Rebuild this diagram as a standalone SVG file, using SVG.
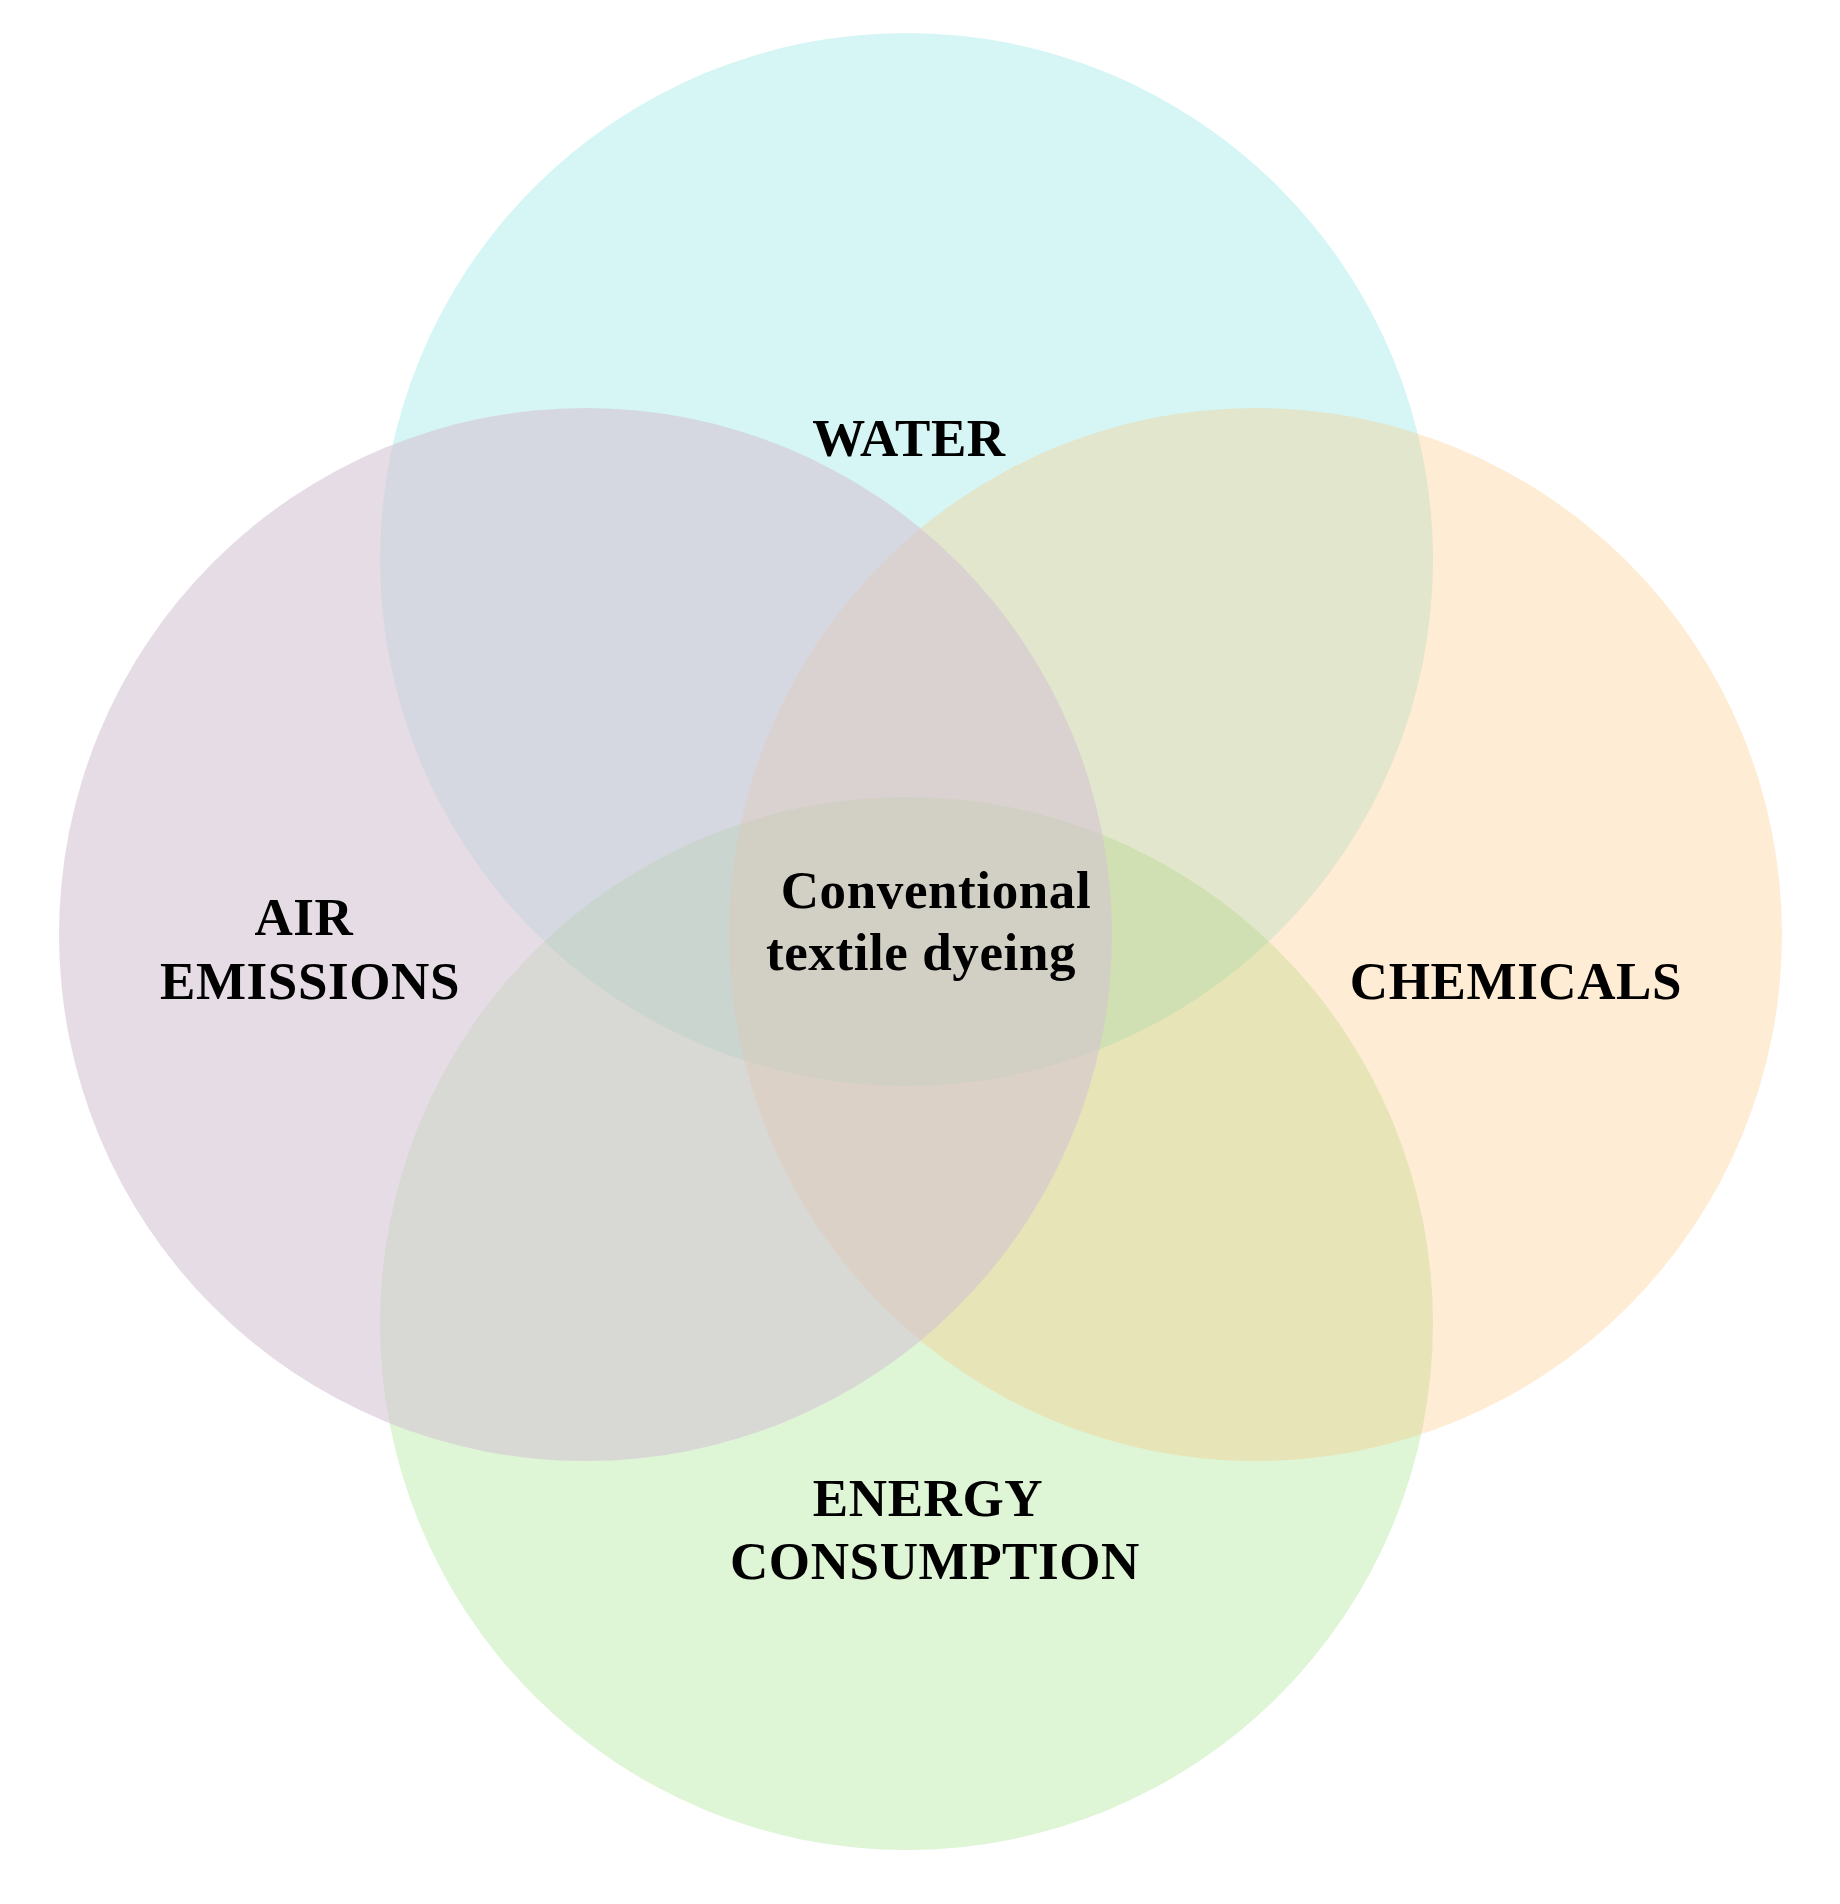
<svg xmlns="http://www.w3.org/2000/svg" width="1840" height="1904" viewBox="0 0 1840 1904">
  <style>
    .lbl { font-family: "Liberation Serif", "Times New Roman", serif; font-weight: bold; font-size: 53px; letter-spacing: 0.6px; fill: #000; text-anchor: middle; }
  </style>
  <rect width="1840" height="1904" fill="#ffffff"/>
  <g id="node-water">
    <circle cx="906.5" cy="559.5" r="526.5" fill="#d6f6f5"/>
  </g>
  <g id="node-energy">
    <circle cx="906.5" cy="1323.5" r="526.5" fill="#69d144" fill-opacity="0.22"/>
  </g>
  <g id="node-chemicals">
    <circle cx="1255.5" cy="934.5" r="526.5" fill="#fcc070" fill-opacity="0.3"/>
  </g>
  <g id="node-air">
    <circle cx="585.5" cy="934.5" r="526.5" fill="#d4c3d2" fill-opacity="0.58"/>
  </g>
  <g id="connectors"></g>
  <g id="labels">
    <text class="lbl" x="909" y="456">WATER</text>
    <text class="lbl" x="304" y="935">AIR</text>
    <text class="lbl" x="310" y="999">EMISSIONS</text>
    <text class="lbl" x="1516" y="999">CHEMICALS</text>
    <text class="lbl" x="936" y="908">Conventional</text>
    <text class="lbl" x="921" y="970">textile dyeing</text>
    <text class="lbl" x="928" y="1516">ENERGY</text>
    <text class="lbl" x="935" y="1579">CONSUMPTION</text>
  </g>
</svg>
